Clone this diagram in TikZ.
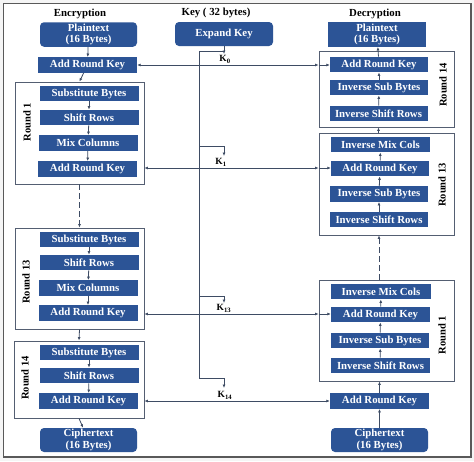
\documentclass[tikz,border=0pt]{standalone}
\usepackage{fontspec}
\setmainfont{Liberation Serif}
\usetikzlibrary{arrows.meta}
\definecolor{boxblue}{RGB}{44,84,150}
\definecolor{lineC}{RGB}{62,76,100}
\definecolor{frameC}{RGB}{84,94,114}
\begin{document}
\begin{tikzpicture}[x=1pt,y=-1pt,
  blk/.style={fill=boxblue, text=white, font=\fontsize{10.8}{11.8}\selectfont\bfseries,
    minimum width=99pt, minimum height=15.5pt, inner sep=0pt, align=center},
  rblk/.style={blk, rounded corners=4pt, minimum height=24.5pt},
  sblk/.style={blk, minimum height=24.5pt},
  frm/.style={draw=frameC, line width=0.9pt, inner sep=0pt},
  rlab/.style={rotate=90, font=\fontsize{10.5}{11}\selectfont\bfseries, text=black},
  head/.style={font=\fontsize{10.8}{12}\selectfont\bfseries, text=black},
  klab/.style={font=\fontsize{9.5}{10}\selectfont\bfseries, text=black, inner sep=0pt},
  ln/.style={draw=lineC, line width=0.8pt},
  arr/.style={ln, -{Latex[length=3.5pt,width=3pt]}},
  darr/.style={arr, dash pattern=on 6pt off 3pt}]
\useasboundingbox (0,0) rectangle (474,461);
\fill[gray!8] (0,0) rectangle (474,461);
\fill[white] (3.5,3.5) rectangle (471,457);
\draw[gray!70!black, line width=1.2pt] (3.5,3.5) rectangle (471,457);

% headings
\node[head] (hE) at (80,14) {Encryption};
\node[head] (hK) at (216,13) {Key ( 32 bytes)};
\node[head] (hD) at (375,14) {Decryption};

% ---------------- Encryption ----------------
\node[rblk, minimum width=97pt] (ptE) at (88.5,34.5) {Plaintext\\(16 Bytes)};
\node[blk] (arkE0) at (87.5,65) {Add Round Key};

\node[frm, minimum width=129pt, minimum height=102pt] (E1) at (79.5,133) {};
\node[blk] (sb1) at (89,93.5) {Substitute Bytes};
\node[blk] (sr1) at (89,117.5) {Shift Rows};
\node[blk] (mc1) at (88,143) {Mix Columns};
\node[blk] (ark1) at (87.5,169) {Add Round Key};
\node[rlab] (lE1) at (27,122) {Round 1};

\node[frm, minimum width=129pt, minimum height=101pt] (E13) at (79.5,278.5) {};
\node[blk] (sb13) at (89,239.5) {Substitute Bytes};
\node[blk] (sr13) at (89,262.5) {Shift Rows};
\node[blk] (mc13) at (88,288) {Mix Columns};
\node[blk] (ark13) at (88,313) {Add Round Key};
\node[rlab] (lE13) at (26,282) {Round 13};

\node[frm, minimum width=130pt, minimum height=77pt] (E14) at (79,379.5) {};
\node[blk] (sb14) at (89,352.5) {Substitute Bytes};
\node[blk] (sr14) at (89,375.5) {Shift Rows};
\node[blk] (ark14) at (88.5,401) {Add Round Key};
\node[rlab] (lE14) at (25,378) {Round 14};

\node[rblk, minimum width=97pt, minimum height=24pt] (ctE) at (88.5,440) {Ciphertext\\(16 Bytes)};

\draw[arr] (ptE) -- (arkE0);
\draw[arr] (arkE0) -- (E1.north);
\draw[arr] (sb1) -- (sr1);
\draw[arr] (sr1) -- (mc1);
\draw[arr] (mc1) -- (ark1);
\draw[darr] (E1.south) -- (E13.north);
\draw[arr] (sb13) -- (sr13);
\draw[arr] (sr13) -- (mc13);
\draw[arr] (mc13) -- (ark13);
\draw[arr] (E13.south) -- (E14.north);
\draw[arr] (sb14) -- (sr14);
\draw[arr] (sr14) -- (ark14);
\draw[arr] (E14.south) -- (ctE);

% ---------------- Decryption ----------------
\node[sblk, minimum width=98pt] (ptD) at (377,34.5) {Plaintext\\(16 Bytes)};

\node[frm, minimum width=135pt, minimum height=76pt] (D14) at (386.5,89) {};
\node[blk, minimum width=98pt] (arkD14) at (379,64.5) {Add Round Key};
\node[blk, minimum width=98pt] (isbD14) at (379,87.5) {Inverse Sub Bytes};
\node[blk, minimum width=98pt] (isrD14) at (378.5,113.5) {Inverse Shift Rows};
\node[rlab] (lD14) at (443,85) {Round 14};

\node[frm, minimum width=135pt, minimum height=102pt] (D13) at (386.5,184) {};
\node[blk, minimum width=99pt] (imcD13) at (380.5,144.5) {Inverse Mix Cols};
\node[blk, minimum width=98pt] (arkD13) at (380,168.5) {Add Round Key};
\node[blk, minimum width=98pt] (isbD13) at (379,194) {Inverse Sub Bytes};
\node[blk, minimum width=98pt] (isrD13) at (379,219.5) {Inverse Shift Rows};
\node[rlab] (lD13) at (442,185) {Round 13};

\node[frm, minimum width=135pt, minimum height=101pt] (D1) at (386.5,330.5) {};
\node[blk, minimum width=100pt] (imcD1) at (381,291.5) {Inverse Mix Cols};
\node[blk, minimum width=99pt] (arkD1) at (380.5,314.5) {Add Round Key};
\node[blk, minimum width=98pt] (isbD1) at (380,340.5) {Inverse Sub Bytes};
\node[blk, minimum width=99pt] (isrD1) at (380.5,365.5) {Inverse Shift Rows};
\node[rlab] (lD1) at (442,335) {Round 1};

\node[blk, minimum width=99pt] (arkDf) at (379.5,401) {Add Round Key};
\node[rblk, minimum width=97pt, minimum height=24pt] (ctD) at (379.5,440) {Ciphertext\\(16 Bytes)};

\draw[arr] (arkD14) -- (ptD);
\draw[arr] (isbD14) -- (arkD14);
\draw[arr] (isrD14) -- (isbD14);
\draw[arr] (D13.north -| isrD14) -- (D14.south -| isrD14);
\draw[arr] (arkD13) -- (imcD13);
\draw[arr] (isbD13) -- (arkD13);
\draw[arr] (isrD13) -- (isbD13);
\draw[darr] (D1.north -| isrD13) -- (D13.south -| isrD13);
\draw[arr] (arkD1) -- (imcD1);
\draw[arr] (isbD1) -- (arkD1);
\draw[arr] (isrD1) -- (isbD1);
\draw[arr] (arkDf) -- (D1.south -| arkDf);
\draw[arr] (ctD) -- (arkDf);

% ---------------- Key schedule ----------------
\node[rblk, minimum width=98pt, minimum height=24pt] (ek) at (224,34) {Expand Key};

\coordinate (kt) at (224,51);
\coordinate (bus0) at (199,51);
\coordinate (k0tip) at (224,54);
\coordinate (b1) at (199,146);
\coordinate (k1tip) at (224,156);
\coordinate (b13) at (199,296);
\coordinate (k13tip) at (224,303);
\coordinate (b14) at (199,378);
\coordinate (k14tip) at (224,388);

\draw[arr] (ek.south) -- (k0tip);
\draw[ln] (kt) -- (bus0) -- (b14);
\draw[arr] (b1) -| (k1tip);
\draw[arr] (b13) -| (k13tip);
\draw[arr] (b14) -| (k14tip);

\node[klab] (k0l) at (225,59.5) {K\textsubscript{0}};
\node[klab] (k1l) at (221,162.5) {K\textsubscript{1}};
\node[klab] (k13l) at (224,308.5) {K\textsubscript{13}};
\node[klab] (k14l) at (225,395.5) {K\textsubscript{14}};

\coordinate (h0) at (224,65);
\coordinate (h1) at (224,168);
\coordinate (h13) at (224,314);
\coordinate (h14) at (224,401);

\draw[arr] (h0) -- (arkE0.east |- h0);
\draw[arr] (h0) -- (D14.west |- h0);
\draw[arr] (D14.west |- h0) -- (arkD14.west |- h0);

\draw[arr] (h1) -- (E1.east |- h1);
\draw[arr] (h1) -- (D13.west |- h1);
\draw[arr] (D13.west |- h1) -- (arkD13.west |- h1);

\draw[arr] (h13) -- (E13.east |- h13);
\draw[arr] (h13) -- (D1.west |- h13);
\draw[arr] (D1.west |- h13) -- (arkD1.west |- h13);

\draw[arr] (h14) -- (E14.east |- h14);
\draw[arr] (h14) -- (arkDf.west |- h14);
\end{tikzpicture}
\end{document}
